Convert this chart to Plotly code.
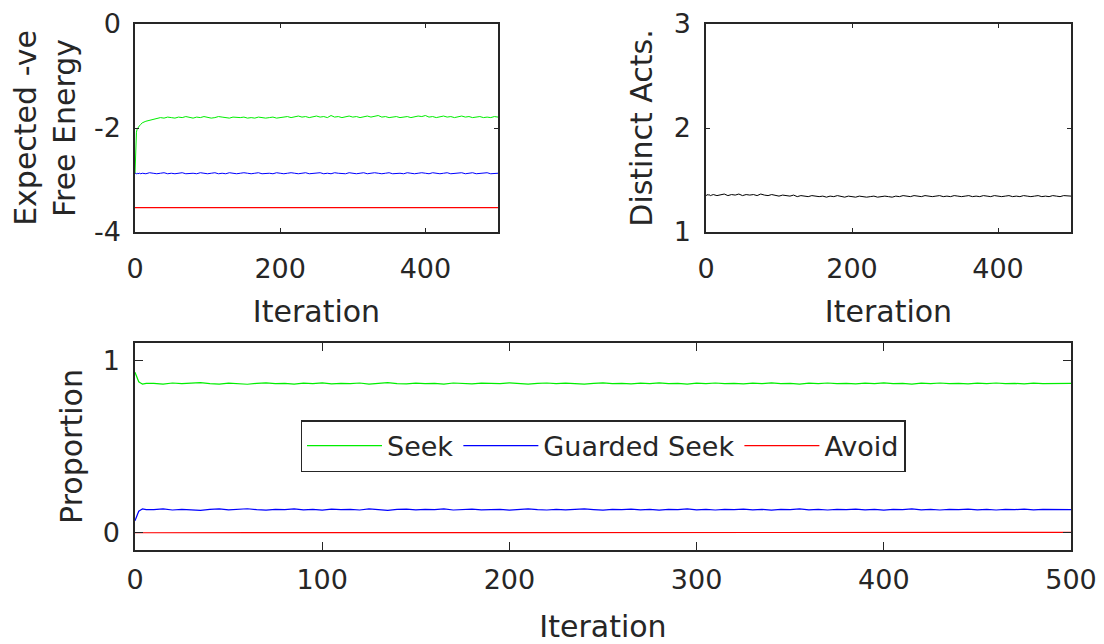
import plotly.graph_objects as go

# ---------------- data ----------------
iterations = [0, 1, 2, 3, 4, 6, 8] + list(range(10, 501, 5))

efe_seek = [-2.88, -2.30, -2.08, -2.02, -1.99, -1.96, -1.93,
            -1.90, -1.87, -1.85, -1.83, -1.82, -1.80, -1.81, -1.79, -1.80, -1.81,
            -1.79, -1.80, -1.78, -1.80, -1.81, -1.79, -1.80, -1.78, -1.79, -1.81,
            -1.80, -1.78, -1.79, -1.80, -1.81, -1.79, -1.80, -1.80, -1.79, -1.81,
            -1.80, -1.81, -1.79, -1.80, -1.81, -1.80, -1.79, -1.81, -1.80, -1.79,
            -1.78, -1.80, -1.79, -1.77, -1.79, -1.78, -1.80, -1.79, -1.77, -1.79,
            -1.78, -1.80, -1.76, -1.79, -1.78, -1.80, -1.79, -1.77, -1.79, -1.78,
            -1.80, -1.78, -1.77, -1.79, -1.78, -1.76, -1.79, -1.78, -1.80, -1.79,
            -1.78, -1.80, -1.79, -1.78, -1.80, -1.79, -1.77, -1.78, -1.76, -1.79,
            -1.78, -1.80, -1.79, -1.77, -1.79, -1.78, -1.80, -1.79, -1.77, -1.79,
            -1.78, -1.80, -1.79, -1.78, -1.80, -1.79, -1.80, -1.78, -1.79]

efe_guarded = [-2.88, -2.87, -2.88, -2.87, -2.88, -2.87, -2.88,
               -2.87, -2.88, -2.86, -2.87, -2.88, -2.87, -2.86, -2.88, -2.87, -2.88,
               -2.87, -2.86, -2.88, -2.87, -2.87, -2.88, -2.86, -2.87, -2.88, -2.87,
               -2.86, -2.88, -2.87, -2.88, -2.86, -2.87, -2.88, -2.87, -2.86, -2.87,
               -2.88, -2.87, -2.86, -2.88, -2.87, -2.87, -2.88, -2.86, -2.87, -2.88,
               -2.87, -2.86, -2.87, -2.88, -2.87, -2.86, -2.88, -2.87, -2.87, -2.86,
               -2.88, -2.87, -2.88, -2.86, -2.87, -2.87, -2.88, -2.86, -2.87, -2.88,
               -2.87, -2.86, -2.88, -2.87, -2.86, -2.87, -2.88, -2.87, -2.86, -2.88,
               -2.87, -2.87, -2.88, -2.86, -2.87, -2.88, -2.87, -2.86, -2.87, -2.88,
               -2.86, -2.87, -2.88, -2.87, -2.86, -2.88, -2.87, -2.87, -2.86, -2.88,
               -2.87, -2.86, -2.88, -2.87, -2.87, -2.86, -2.88, -2.87, -2.87]

efe_avoid_x = [0, 500]
efe_avoid = [-3.53, -3.53]

distinct_acts = [1.36, 1.35, 1.36, 1.355, 1.36, 1.35, 1.355,
                 1.36, 1.35, 1.355, 1.365, 1.35, 1.36, 1.355, 1.365, 1.35, 1.36,
                 1.355, 1.36, 1.35, 1.365, 1.355, 1.35, 1.36, 1.355, 1.345, 1.355,
                 1.35, 1.345, 1.355, 1.34, 1.35, 1.345, 1.34, 1.35, 1.345, 1.34,
                 1.345, 1.335, 1.345, 1.34, 1.35, 1.34, 1.335, 1.345, 1.34, 1.335,
                 1.345, 1.34, 1.335, 1.34, 1.345, 1.335, 1.34, 1.345, 1.34, 1.335,
                 1.345, 1.34, 1.35, 1.345, 1.34, 1.35, 1.345, 1.34, 1.35, 1.345,
                 1.34, 1.345, 1.35, 1.34, 1.345, 1.34, 1.35, 1.345, 1.34, 1.345,
                 1.35, 1.34, 1.345, 1.34, 1.35, 1.345, 1.34, 1.35, 1.345, 1.34,
                 1.345, 1.35, 1.34, 1.345, 1.34, 1.35, 1.345, 1.34, 1.345, 1.35,
                 1.34, 1.345, 1.34, 1.35, 1.345, 1.34, 1.35, 1.345, 1.345]

prop_seek = [0.93, 0.90, 0.875, 0.868, 0.862, 0.866, 0.864,
             0.866, 0.862, 0.868, 0.864, 0.866, 0.870, 0.864, 0.862, 0.867, 0.865,
             0.861, 0.866, 0.869, 0.864, 0.866, 0.862, 0.867, 0.865, 0.869, 0.863,
             0.866, 0.864, 0.868, 0.862, 0.866, 0.870, 0.865, 0.863, 0.867, 0.864,
             0.866, 0.862, 0.868, 0.865, 0.863, 0.867, 0.866, 0.864, 0.869, 0.865,
             0.862, 0.866, 0.868, 0.864, 0.867, 0.865, 0.862, 0.866, 0.869, 0.864,
             0.866, 0.863, 0.867, 0.865, 0.869, 0.864, 0.866, 0.862, 0.867, 0.865,
             0.868, 0.864, 0.866, 0.863, 0.867, 0.865, 0.869, 0.864, 0.866, 0.862,
             0.867, 0.865, 0.868, 0.864, 0.866, 0.863, 0.867, 0.865, 0.869, 0.864,
             0.866, 0.862, 0.867, 0.865, 0.868, 0.864, 0.866, 0.863, 0.867, 0.865,
             0.868, 0.864, 0.866, 0.863, 0.867, 0.865, 0.866, 0.864, 0.866]

prop_guarded = [0.07, 0.10, 0.125, 0.132, 0.138, 0.134, 0.136,
                0.134, 0.138, 0.132, 0.136, 0.134, 0.130, 0.136, 0.138, 0.133, 0.135,
                0.139, 0.134, 0.131, 0.136, 0.134, 0.138, 0.133, 0.135, 0.131, 0.137,
                0.134, 0.136, 0.132, 0.138, 0.134, 0.130, 0.135, 0.137, 0.133, 0.136,
                0.134, 0.138, 0.132, 0.135, 0.137, 0.133, 0.134, 0.136, 0.131, 0.135,
                0.138, 0.134, 0.132, 0.136, 0.133, 0.135, 0.138, 0.134, 0.131, 0.136,
                0.134, 0.137, 0.133, 0.135, 0.131, 0.136, 0.134, 0.138, 0.133, 0.135,
                0.132, 0.136, 0.134, 0.137, 0.133, 0.135, 0.131, 0.136, 0.134, 0.138,
                0.133, 0.135, 0.132, 0.136, 0.134, 0.137, 0.133, 0.135, 0.131, 0.136,
                0.134, 0.138, 0.133, 0.135, 0.132, 0.136, 0.134, 0.137, 0.133, 0.135,
                0.132, 0.136, 0.134, 0.137, 0.133, 0.135, 0.134, 0.136, 0.134]

prop_avoid = [0.0, 0.0, 0.0, 0.0, 0.0, 0.0, 0.0,
              0.0, 0.002, 0.0, 0.003, 0.001, 0.0, 0.002, 0.004, 0.001, 0.0,
              0.002, 0.0, 0.003, 0.001, 0.0, 0.002, 0.0, 0.004, 0.001, 0.0,
              0.002, 0.0, 0.001, 0.003, 0.0, 0.002, 0.0, 0.001, 0.0, 0.003,
              0.001, 0.0, 0.002, 0.0, 0.001, 0.003, 0.0, 0.002, 0.0, 0.001,
              0.0, 0.002, 0.0, 0.001, 0.003, 0.0, 0.002, 0.0, 0.001, 0.0,
              0.002, 0.0, 0.003, 0.001, 0.0, 0.002, 0.0, 0.001, 0.004, 0.0,
              0.002, 0.0, 0.001, 0.0, 0.003, 0.001, 0.0, 0.002, 0.0, 0.001,
              0.003, 0.0, 0.002, 0.0, 0.001, 0.0, 0.002, 0.004, 0.001, 0.0,
              0.002, 0.0, 0.001, 0.003, 0.0, 0.002, 0.0, 0.001, 0.0, 0.003,
              0.001, 0.0, 0.002, 0.0, 0.001, 0.003, 0.0, 0.002, 0.002]

series_names = ["Seek", "Guarded Seek", "Avoid"]
series_colors = ["#00ee00", "#0000ff", "#ff0000"]

efe_ticks = [-4, -2, 0]
efe_ticktext = ["-4", "-2", "0"]
da_ticks = [1, 2, 3]
prop_ticks = [0, 1]
top_xticks = [0, 200, 400]
bottom_xticks = [0, 100, 200, 300, 400, 500]

# ---------------- figure ----------------
PAGE_OFF = 8                      # default <body> margin of the html page
W, H = 1104 - PAGE_OFF, 644 - PAGE_OFF
FONT = "DejaVu Sans"
AX = "#262626"

fig = go.Figure()

# top-left: expected -ve free energy
fig.add_trace(go.Scatter(x=iterations, y=efe_seek, mode="lines", xaxis="x", yaxis="y",
                         line=dict(color=series_colors[0], width=1), showlegend=False))
fig.add_trace(go.Scatter(x=iterations, y=efe_guarded, mode="lines", xaxis="x", yaxis="y",
                         line=dict(color=series_colors[1], width=1), showlegend=False))
fig.add_trace(go.Scatter(x=efe_avoid_x, y=efe_avoid, mode="lines", xaxis="x", yaxis="y",
                         line=dict(color=series_colors[2], width=1.2), showlegend=False))

# top-right: distinct acts
fig.add_trace(go.Scatter(x=iterations, y=distinct_acts, mode="lines", xaxis="x2", yaxis="y2",
                         line=dict(color="#000000", width=1), showlegend=False))

# bottom: proportions
for vals, name, col in zip([prop_seek, prop_guarded, prop_avoid], series_names, series_colors):
    fig.add_trace(go.Scatter(x=iterations, y=vals, mode="lines", xaxis="x3", yaxis="y3",
                             name=name, line=dict(color=col, width=1.2)))


def px_x(a, b):
    return [(a - PAGE_OFF) / W, (b - PAGE_OFF) / W]


def px_y(top, bottom):
    return [1 - (bottom - PAGE_OFF) / H, 1 - (top - PAGE_OFF) / H]


common = dict(showline=True, linecolor=AX, linewidth=1.5, mirror="ticks", ticks="inside",
              tickcolor=AX, showgrid=False, zeroline=False, automargin=False,
              tickfont=dict(family=FONT, size=27, color=AX))
title_font = dict(family=FONT, size=30, color=AX)

fig.update_layout(
    width=W, height=H,
    margin=dict(l=0, r=0, t=0, b=0, autoexpand=False),
    paper_bgcolor="white", plot_bgcolor="white",
    font=dict(family=FONT, color=AX),
    xaxis=dict(domain=px_x(135, 498), anchor="y", range=[0, 500], tickvals=top_xticks,
               ticklen=4, ticklabelstandoff=12,
               title=dict(text="Iteration", font=title_font, standoff=18), **common),
    yaxis=dict(domain=px_y(24, 232), anchor="x", range=[-4, 0], tickvals=efe_ticks,
               ticktext=efe_ticktext, ticklen=4, ticklabelstandoff=7,
               title=dict(text="Expected -ve<br>Free Energy", font=title_font, standoff=12), **common),
    xaxis2=dict(domain=px_x(706, 1071), anchor="y2", range=[0, 500], tickvals=top_xticks,
                ticklen=4, ticklabelstandoff=12,
                title=dict(text="Iteration", font=title_font, standoff=18), **common),
    yaxis2=dict(domain=px_y(24, 232), anchor="x2", range=[1, 3], tickvals=da_ticks,
                ticklen=4, ticklabelstandoff=8,
                title=dict(text="Distinct Acts.", font=title_font, standoff=12), **common),
    xaxis3=dict(domain=px_x(135, 1071), anchor="y3", range=[0, 500], tickvals=bottom_xticks,
                ticklen=8, ticklabelstandoff=5,
                title=dict(text="Iteration", font=title_font, standoff=22), **common),
    yaxis3=dict(domain=px_y(343, 550), anchor="x3", range=[-0.1, 1.1], tickvals=prop_ticks,
                ticklen=8, ticklabelstandoff=8,
                title=dict(text="Proportion", font=title_font, standoff=11), **common),
    legend=dict(orientation="h", x=(603 - PAGE_OFF) / W, xanchor="center",
                y=1 - (446 - PAGE_OFF) / H, yanchor="middle",
                bgcolor="white", bordercolor=AX, borderwidth=1.5,
                font=dict(family=FONT, size=27, color=AX), itemwidth=75),
)

fig.write_html("out.html")
